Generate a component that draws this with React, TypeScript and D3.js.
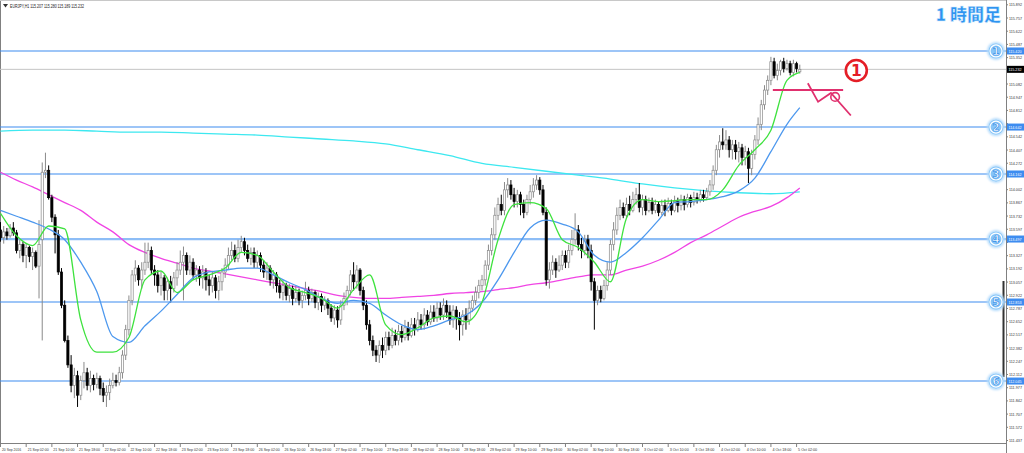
import React from "react";
import * as d3 from "d3";

// EURJPY H1 candles, 20 Sep 2016 18:00 .. 5 Oct 2016 03:00
const opens = [
  113.59, 113.51, 113.57, 113.53, 113.61, 113.56, 113.38, 113.44, 113.33, 113.41,
  113.32, 113.36, 113.22, 113.49, 114.18, 114.2, 113.92, 113.72, 113.54, 113.16,
  112.82, 112.46, 112.21, 112.0, 112.1, 111.9, 112.05, 112.13, 112.0, 112.07,
  112.01, 112.07, 111.97, 111.9, 111.93, 112.0, 112.05, 112.03, 112.13, 112.31,
  112.57, 112.87, 113.13, 113.2, 113.08, 113.18, 113.26, 113.38, 113.18, 113.13,
  113.02, 113.1, 112.97, 113.06, 112.99, 113.1, 113.18, 113.26, 113.33, 113.18,
  113.26, 113.13, 113.18, 113.1, 113.16, 113.08, 113.02, 113.1, 112.97, 113.06,
  113.16, 113.23, 113.33, 113.38, 113.3, 113.41, 113.47, 113.38, 113.3, 113.36,
  113.26, 113.33, 113.23, 113.16, 113.2, 113.08, 113.13, 113.02, 112.95, 113.02,
  112.92, 112.99, 112.89, 112.95, 112.87, 112.92, 112.97, 112.89, 112.95, 112.85,
  112.91, 112.82, 112.87, 112.79, 112.69, 112.77, 112.67, 112.82, 112.89, 112.97,
  113.13, 113.06, 113.18, 112.97, 112.82, 112.62, 112.46, 112.36, 112.31, 112.41,
  112.36, 112.49, 112.41, 112.51, 112.46, 112.55, 112.49, 112.59, 112.51, 112.62,
  112.57, 112.67, 112.62, 112.72, 112.65, 112.75, 112.69, 112.79, 112.72, 112.82,
  112.75, 112.67, 112.77, 112.69, 112.62, 112.72, 112.67, 112.79, 112.87, 112.95,
  113.02, 113.08, 113.23, 113.38, 113.54, 113.74, 113.85, 113.79, 114.0, 114.05,
  113.95, 113.88, 113.95, 113.85, 113.77, 113.9, 113.98, 114.05, 114.1, 114.0,
  113.77, 113.08, 113.18, 113.26, 113.18, 113.23, 113.33, 113.26, 113.38, 113.49,
  113.59, 113.44, 113.38, 113.49, 113.38, 113.06, 112.87, 112.97, 112.89, 113.02,
  113.18, 113.44, 113.59, 113.74, 113.82, 113.74, 113.85, 113.79, 113.9, 113.95,
  113.82, 113.9, 113.79, 113.87, 113.79, 113.85, 113.77, 113.84, 113.79, 113.86,
  113.79, 113.88, 113.84, 113.9, 113.85, 113.92, 113.87, 113.92, 113.9, 113.95,
  113.92, 113.98, 114.05, 114.2, 114.41, 114.49, 114.46, 114.51, 114.41, 114.46,
  114.39, 114.43, 114.33, 114.39, 114.22, 114.36, 114.51, 114.67, 114.87, 115.02,
  115.12, 115.31, 115.17, 115.22, 115.31, 115.24, 115.29, 115.2, 115.29, 115.207,
];
const highs = [
  113.67, 113.63, 113.61, 113.65, 113.67, 113.59, 113.49, 113.47, 113.45, 113.43,
  113.41, 113.38, 113.69, 114.28, 114.38, 114.25, 113.95, 113.75, 113.59, 113.2,
  112.87, 112.51, 112.31, 112.18, 112.15, 112.1, 112.24, 112.18, 112.15, 112.11,
  112.13, 112.1, 112.03, 112.0, 112.07, 112.13, 112.11, 112.19, 112.36, 112.62,
  112.92, 113.18, 113.28, 113.23, 113.26, 113.46, 113.46, 113.42, 113.23, 113.18,
  113.16, 113.13, 113.1, 113.12, 113.16, 113.26, 113.38, 113.42, 113.36, 113.33,
  113.3, 113.23, 113.22, 113.23, 113.2, 113.13, 113.16, 113.13, 113.12, 113.2,
  113.3, 113.41, 113.47, 113.44, 113.49, 113.53, 113.51, 113.44, 113.41, 113.41,
  113.38, 113.36, 113.28, 113.26, 113.23, 113.18, 113.16, 113.08, 113.08, 113.05,
  113.04, 113.02, 113.02, 112.99, 112.97, 113.06, 113.01, 112.99, 112.97, 112.95,
  112.94, 112.91, 112.89, 112.83, 112.82, 112.81, 112.87, 112.95, 113.02, 113.18,
  113.26, 113.23, 113.2, 113.01, 112.87, 112.67, 112.51, 112.41, 112.46, 112.49,
  112.55, 112.55, 112.59, 112.57, 112.62, 112.61, 112.67, 112.65, 112.69, 112.69,
  112.75, 112.73, 112.79, 112.77, 112.82, 112.82, 112.85, 112.85, 112.89, 112.87,
  112.82, 112.82, 112.81, 112.75, 112.77, 112.79, 112.87, 112.92, 113.01, 113.08,
  113.13, 113.28, 113.44, 113.61, 113.82, 113.92, 113.95, 114.08, 114.12, 114.1,
  114.02, 114.0, 113.98, 113.9, 113.95, 114.05, 114.12, 114.15, 114.13, 114.05,
  113.82, 113.26, 113.33, 113.3, 113.33, 113.38, 113.38, 113.44, 113.59, 113.76,
  113.64, 113.51, 113.54, 113.54, 113.44, 113.1, 113.02, 113.02, 113.08, 113.26,
  113.49, 113.67, 113.82, 113.9, 113.87, 113.92, 113.94, 113.98, 114.02, 114.07,
  113.95, 113.94, 113.92, 113.92, 113.9, 113.88, 113.9, 113.9, 113.92, 113.9,
  113.94, 113.92, 113.95, 113.94, 113.96, 113.95, 113.98, 113.97, 114.0, 114.0,
  114.02, 114.1, 114.25, 114.46, 114.56, 114.63, 114.61, 114.55, 114.51, 114.51,
  114.49, 114.47, 114.45, 114.43, 114.41, 114.56, 114.74, 114.92, 115.07, 115.17,
  115.36, 115.35, 115.29, 115.33, 115.35, 115.33, 115.32, 115.33, 115.31, 115.28,
];
const lows = [
  113.47, 113.45, 113.49, 113.51, 113.53, 113.35, 113.3, 113.26, 113.2, 113.26,
  113.18, 113.2, 112.89, 112.46, 114.12, 113.9, 113.67, 113.35, 113.13, 112.79,
  112.44, 112.18, 111.93, 111.87, 111.78, 111.85, 111.97, 111.95, 111.93, 111.95,
  111.97, 111.9, 111.83, 111.78, 111.85, 111.97, 111.99, 112.0, 112.07, 112.26,
  112.51, 112.82, 113.06, 113.02, 112.99, 113.13, 113.2, 113.13, 113.02, 112.95,
  112.92, 112.87, 112.87, 112.85, 112.95, 113.02, 113.13, 112.87, 113.13, 113.13,
  113.08, 113.06, 113.02, 112.99, 112.97, 112.92, 112.95, 112.89, 112.87, 112.97,
  113.1, 113.18, 113.28, 113.26, 113.26, 113.36, 113.33, 113.26, 113.23, 113.2,
  113.2, 113.16, 113.1, 113.08, 113.02, 112.99, 112.95, 112.89, 112.87, 112.87,
  112.85, 112.82, 112.85, 112.82, 112.79, 112.87, 112.82, 112.85, 112.79, 112.77,
  112.75, 112.77, 112.72, 112.65, 112.62, 112.59, 112.62, 112.77, 112.82, 112.92,
  112.97, 112.99, 112.92, 112.77, 112.57, 112.41, 112.3, 112.24, 112.23, 112.28,
  112.31, 112.36, 112.38, 112.41, 112.41, 112.44, 112.46, 112.46, 112.49, 112.51,
  112.55, 112.57, 112.57, 112.61, 112.62, 112.65, 112.65, 112.67, 112.67, 112.69,
  112.62, 112.59, 112.57, 112.46, 112.51, 112.57, 112.62, 112.75, 112.82, 112.89,
  112.97, 113.02, 113.18, 113.33, 113.49, 113.69, 113.74, 113.74, 113.92, 113.9,
  113.82, 113.82, 113.74, 113.71, 113.74, 113.85, 113.92, 114.0, 113.95, 113.74,
  113.02, 112.99, 113.13, 113.1, 113.16, 113.18, 113.2, 113.2, 113.33, 113.44,
  113.38, 113.3, 113.33, 113.3, 112.97, 112.57, 112.82, 112.85, 112.87, 112.97,
  113.13, 113.38, 113.54, 113.69, 113.71, 113.71, 113.74, 113.77, 113.85, 113.77,
  113.74, 113.74, 113.77, 113.75, 113.76, 113.73, 113.74, 113.73, 113.77, 113.74,
  113.77, 113.77, 113.79, 113.79, 113.82, 113.82, 113.84, 113.86, 113.87, 113.88,
  113.9, 113.94, 114.0, 114.15, 114.33, 114.41, 114.41, 114.33, 114.31, 114.31,
  114.28, 114.25, 114.25, 114.07, 114.15, 114.31, 114.46, 114.61, 114.82, 114.97,
  115.07, 115.14, 115.12, 115.17, 115.2, 115.22, 115.17, 115.16, 115.2, 115.189,
];
const closes = [
  113.51, 113.57, 113.53, 113.61, 113.56, 113.38, 113.44, 113.33, 113.41, 113.32,
  113.36, 113.22, 113.44, 114.18, 114.2, 113.92, 113.72, 113.54, 113.16, 112.82,
  112.46, 112.21, 112.0, 112.1, 111.9, 112.05, 112.13, 112.0, 112.07, 112.01,
  112.07, 111.97, 111.9, 111.93, 112.0, 112.05, 112.03, 112.13, 112.31, 112.57,
  112.87, 113.13, 113.2, 113.08, 113.18, 113.26, 113.38, 113.18, 113.13, 113.02,
  113.1, 112.97, 113.06, 112.99, 113.1, 113.18, 113.26, 113.33, 113.18, 113.26,
  113.13, 113.18, 113.1, 113.16, 113.08, 113.02, 113.1, 112.97, 113.06, 113.16,
  113.23, 113.33, 113.38, 113.3, 113.41, 113.47, 113.38, 113.3, 113.36, 113.26,
  113.33, 113.23, 113.16, 113.2, 113.08, 113.13, 113.02, 112.95, 113.02, 112.92,
  112.99, 112.89, 112.95, 112.87, 112.92, 112.97, 112.89, 112.95, 112.85, 112.91,
  112.82, 112.87, 112.79, 112.69, 112.77, 112.67, 112.82, 112.89, 112.97, 113.13,
  113.06, 113.18, 112.97, 112.82, 112.62, 112.46, 112.36, 112.31, 112.41, 112.36,
  112.49, 112.41, 112.51, 112.46, 112.55, 112.49, 112.59, 112.51, 112.62, 112.57,
  112.67, 112.62, 112.72, 112.65, 112.75, 112.69, 112.79, 112.72, 112.82, 112.75,
  112.67, 112.77, 112.69, 112.62, 112.72, 112.67, 112.79, 112.87, 112.95, 113.02,
  113.08, 113.23, 113.38, 113.54, 113.74, 113.85, 113.79, 114.0, 114.05, 113.95,
  113.88, 113.95, 113.85, 113.77, 113.9, 113.98, 114.05, 114.1, 114.0, 113.77,
  113.08, 113.18, 113.26, 113.18, 113.23, 113.33, 113.26, 113.38, 113.49, 113.59,
  113.44, 113.38, 113.49, 113.38, 113.06, 112.87, 112.97, 112.89, 113.02, 113.18,
  113.44, 113.59, 113.74, 113.82, 113.74, 113.85, 113.79, 113.9, 113.95, 113.82,
  113.9, 113.79, 113.87, 113.79, 113.85, 113.77, 113.84, 113.79, 113.86, 113.79,
  113.88, 113.84, 113.9, 113.85, 113.92, 113.87, 113.92, 113.9, 113.95, 113.92,
  113.98, 114.05, 114.2, 114.41, 114.49, 114.46, 114.51, 114.41, 114.46, 114.39,
  114.43, 114.33, 114.39, 114.22, 114.36, 114.51, 114.67, 114.87, 115.02, 115.12,
  115.31, 115.17, 115.22, 115.31, 115.24, 115.29, 115.2, 115.29, 115.24, 115.232,
];

// moving averages at these bar indices
const maBars = [
  0, 5, 10, 15, 20, 25, 30, 35, 40, 45, 50, 55, 60, 65, 70, 75, 80, 85, 90, 95,
  100, 105, 110, 115, 120, 125, 130, 135, 140, 145, 150, 155, 160, 165, 170, 175,
  180, 185, 190, 195, 200, 205, 210, 215, 220, 225, 230, 235, 240, 245, 249,
];
const greenMa = [
  113.76, 113.53, 113.43, 113.63, 113.6, 112.67, 112.34, 112.34, 112.49, 113.08,
  113.17, 112.95, 113.08, 113.13, 113.2, 113.36, 113.33, 113.16, 113.0, 112.95,
  112.89, 112.79, 112.98, 113.13, 112.62, 112.52, 112.59, 112.69, 112.71, 112.65,
  112.85, 113.49, 113.85, 113.87, 113.81, 113.49, 113.41, 113.26, 113.06, 113.71,
  113.9, 113.88, 113.89, 113.9, 113.9, 114.0, 114.25, 114.41, 114.61, 115.12, 115.2,
];
const blueMa = [
  113.79, 113.73, 113.67, 113.6, 113.49, 113.26, 112.96, 112.5, 112.44, 112.61,
  112.76, 112.93, 113.1, 113.16, 113.18, 113.2, 113.2, 113.13, 113.05, 112.98,
  112.89, 112.84, 112.87, 112.84, 112.72, 112.62, 112.57, 112.61, 112.67, 112.72,
  112.85, 113.08, 113.36, 113.61, 113.69, 113.65, 113.57, 113.33, 113.26, 113.36,
  113.51, 113.69, 113.87, 113.88, 113.9, 113.93, 113.99, 114.12, 114.39, 114.67, 114.84,
];
const magentaMa = [
  114.18, 114.1, 114.03, 113.95, 113.87, 113.79, 113.67, 113.57, 113.44, 113.36,
  113.3, 113.25, 113.2, 113.17, 113.14, 113.11, 113.08, 113.05, 113.02, 112.99,
  112.96, 112.92, 112.9, 112.89, 112.89, 112.9, 112.91, 112.92, 112.94, 112.95,
  112.96, 112.98, 113.0, 113.03, 113.05, 113.08, 113.11, 113.13, 113.13, 113.18,
  113.22, 113.28, 113.36, 113.46, 113.54, 113.63, 113.72, 113.78, 113.83, 113.92, 114.02,
];
const cyanBars = [
  0, 10, 20, 30, 40, 50, 60, 70, 80, 90, 100, 110, 120, 130, 140, 150, 160, 170,
  180, 190, 200, 210, 220, 230, 240, 249,
];
const cyanMa = [
  114.6, 114.61, 114.61, 114.6, 114.59, 114.59, 114.58, 114.57, 114.56, 114.54,
  114.52, 114.5, 114.47, 114.41, 114.35, 114.27, 114.23, 114.19, 114.15, 114.11,
  114.06, 114.02, 113.99, 113.97, 113.96, 113.98,
];

const levels = [115.42, 114.642, 114.162, 113.497, 112.853, 112.045];
const levelNames = ["1", "2", "3", "4", "5", "6"];

const priceTicks = [
  115.892, 115.757, 115.622, 115.487, 115.352, 115.217, 115.082, 114.947, 114.812,
  114.677, 114.542, 114.407, 114.272, 114.137, 114.002, 113.867, 113.732, 113.597,
  113.462, 113.327, 113.192, 113.057, 112.922, 112.787, 112.652, 112.517, 112.382,
  112.247, 112.112, 111.977, 111.842, 111.707, 111.572, 111.437,
];

const timeLabels = [
  "20 Sep 2016",
  "21 Sep 02:00", "21 Sep 10:00", "21 Sep 18:00",
  "22 Sep 02:00", "22 Sep 10:00", "22 Sep 18:00",
  "23 Sep 02:00", "23 Sep 10:00", "23 Sep 18:00",
  "26 Sep 02:00", "26 Sep 10:00", "26 Sep 18:00",
  "27 Sep 02:00", "27 Sep 10:00", "27 Sep 18:00",
  "28 Sep 02:00", "28 Sep 10:00", "28 Sep 18:00",
  "29 Sep 02:00", "29 Sep 10:00", "29 Sep 18:00",
  "30 Sep 02:00", "30 Sep 10:00", "30 Sep 18:00",
  "3 Oct 02:00", "3 Oct 10:00", "3 Oct 18:00",
  "4 Oct 02:00", "4 Oct 10:00", "4 Oct 18:00",
  "5 Oct 02:00",
];

// hand-drawn annotation (bar index, price)
const supportLine = { from: 240.6, to: 262.5, price: 115.02 };
const zigzag: [number, number][] = [
  [251.5, 115.09],
  [254.7, 114.9],
  [258.7, 114.99],
  [264.9, 114.76],
];
const zigCircle: [number, number] = [260.0, 114.95];
const markOne: [number, number] = [266.6, 115.22];

const FONT = "'Liberation Sans', Arial, sans-serif";

export default function App() {
  const plotR = 1006;
  const plotB = 443;
  const x = d3.scaleLinear().domain([0, 249]).range([0.5, 799.8]);
  const y = d3.scaleLinear().domain([111.437, 115.892]).range([440.5, 4.8]);
  const fmt = d3.format(".3f");

  const maPath = (bars: number[], vals: number[]) =>
    d3
      .line<number>()
      .x((_, i) => x(bars[i]))
      .y((v) => y(v))
      .curve(d3.curveMonotoneX)(vals) || "";

  const zig = d3
    .line<[number, number]>()
    .x((d) => x(d[0]))
    .y((d) => y(d[1]))(zigzag) || "";

  const lastClose = closes[closes.length - 1];
  // tick labels hidden by the coloured price boxes
  const boxed = [...levels, lastClose];
  const visibleTicks = priceTicks.filter((p) => boxed.every((b) => Math.abs(y(p) - y(b)) > 6));

  return (
    <svg
      width={1024}
      height={453}
      style={{ position: "absolute", left: 0, top: 0, background: "#fff" }}
      fontFamily={FONT}
    >
      <defs>
        <clipPath id="plot">
          <rect x={0} y={0} width={plotR} height={plotB} />
        </clipPath>
        <filter id="glow" x="-50%" y="-50%" width="200%" height="200%">
          <feGaussianBlur stdDeviation="1.3" />
        </filter>
      </defs>
      <rect width={1024} height={453} fill="#fff" />

      {/* frame */}
      <line x1={0.5} y1={0} x2={0.5} y2={plotB} stroke="#808080" />
      <line x1={0} y1={0.5} x2={plotR} y2={0.5} stroke="#c8c8c8" />
      <line x1={plotR + 0.5} y1={0} x2={plotR + 0.5} y2={plotB + 10} stroke="#808080" />
      <line x1={0} y1={plotB + 0.5} x2={plotR} y2={plotB + 0.5} stroke="#808080" />
      <line x1={1003.5} y1={281} x2={1003.5} y2={377} stroke="#333" strokeWidth={2} />

      <g clipPath="url(#plot)">
        {/* current price line */}
        <line x1={0} x2={plotR} y1={y(lastClose)} y2={y(lastClose)} stroke="#c4c4c4" />

        {/* horizontal levels */}
        {levels.map((lv, i) => (
          <line
            key={"lv" + i}
            x1={0}
            x2={plotR}
            y1={y(lv)}
            y2={y(lv)}
            stroke={i === 3 ? "#8dbdf6" : "#3d8cf0"}
            strokeWidth={i === 3 ? 2.2 : 1.1}
          />
        ))}

        {/* moving averages */}
        <path d={maPath(cyanBars, cyanMa)} fill="none" stroke="#3de8f0" strokeWidth={1.3} />
        <path d={maPath(maBars, magentaMa)} fill="none" stroke="#f044e4" strokeWidth={1.3} />

        {/* candles */}
        {closes.map((c, i) => {
          const o = opens[i];
          const bull = c >= o;
          const cx = x(i);
          const top = y(Math.max(o, c));
          const bot = y(Math.min(o, c));
          const col = bull ? "#8a8a8a" : "#000";
          return (
            <g key={"c" + i}>
              <line x1={cx} x2={cx} y1={y(highs[i])} y2={y(lows[i])} stroke={col} strokeWidth={1} />
              <rect
                x={cx - 1.1}
                y={top}
                width={2.2}
                height={Math.max(bot - top, 0.8)}
                fill={bull ? "#fff" : "#000"}
                stroke={col}
                strokeWidth={0.7}
              />
            </g>
          );
        })}

        <path d={maPath(maBars, blueMa)} fill="none" stroke="#4d98ee" strokeWidth={1.3} />
        <path d={maPath(maBars, greenMa)} fill="none" stroke="#3ee23e" strokeWidth={1.3} />

        {/* annotation */}
        <line
          x1={x(supportLine.from)}
          x2={x(supportLine.to)}
          y1={y(supportLine.price)}
          y2={y(supportLine.price)}
          stroke="#e0306e"
          strokeWidth={2}
        />
        <path d={zig} fill="none" stroke="#e0306e" strokeWidth={1.8} />
        <circle cx={x(zigCircle[0])} cy={y(zigCircle[1])} r={4.3} fill="none" stroke="#e0306e" strokeWidth={1.6} />
        <circle cx={x(markOne[0])} cy={y(markOne[1])} r={10.5} fill="#fff" stroke="#e41e26" strokeWidth={2.6} />
        <text
          x={x(markOne[0])}
          y={y(markOne[1]) + 5.5}
          textAnchor="middle"
          fontSize={15.5}
          fontWeight="bold"
          fill="#e41e26"
          fontFamily="'DejaVu Sans', sans-serif"
        >
          1
        </text>

        {/* circled level numbers */}
        {levels.map((lv, i) => (
          <g key={"ln" + i} transform={`translate(996,${y(lv)})`}>
            <circle r={9} fill="#b5dcfc" filter="url(#glow)" />
            <circle r={7.4} fill="#86c5f8" />
            <circle r={6} fill="none" stroke="#fff" strokeWidth={1.2} />
            <text
              y={3.6}
              textAnchor="middle"
              fontSize={10.5}
              fill="#fff"
              stroke="#2f8ae8"
              strokeWidth={0.6}
              fontWeight="bold"
              fontFamily="'DejaVu Sans', sans-serif"
            >
              {levelNames[i]}
            </text>
          </g>
        ))}
      </g>

      {/* header */}
      <path d="M3,4 L8,4 L5.5,7.5 Z" fill="#333" />
      <text x={10} y={8} fontSize={4.6} fill="#222" textLength={74} lengthAdjust="spacingAndGlyphs">
        EURJPY,H1 115.207 115.280 115.189 115.232
      </text>

      {/* timeframe title */}
      <text
        x={1001}
        y={21}
        textAnchor="end"
        fontSize={17}
        fontWeight="900"
        fill="#2f93f0"
        stroke="#d8ecfd"
        strokeWidth={0.5}
        fontFamily="'Noto Sans CJK JP', sans-serif"
      >
        1 時間足
      </text>

      {/* price axis */}
      {priceTicks.map((p) => (
        <line key={"tk" + p} x1={plotR} x2={plotR + 2} y1={y(p)} y2={y(p)} stroke="#808080" />
      ))}
      {visibleTicks.map((p) => (
        <text
          key={"pt" + p}
          x={1009}
          y={y(p) + 1.6}
          fontSize={3.8}
          fill="#333"
          textLength={13}
          lengthAdjust="spacingAndGlyphs"
        >
          {fmt(p)}
        </text>
      ))}
      {levels.map((lv, i) => (
        <g key={"lb" + i}>
          <rect x={plotR + 1} y={y(lv) - 3.5} width={17} height={7} fill="#3d8cf0" />
          <text
            x={1008.5}
            y={y(lv) + 1.6}
            fontSize={3.8}
            fill="#fff"
            textLength={13}
            lengthAdjust="spacingAndGlyphs"
          >
            {fmt(lv)}
          </text>
        </g>
      ))}
      <rect x={plotR + 1} y={y(lastClose) - 3.5} width={17} height={7} fill="#000" />
      <text
        x={1008.5}
        y={y(lastClose) + 1.6}
        fontSize={3.8}
        fill="#fff"
        textLength={13}
        lengthAdjust="spacingAndGlyphs"
      >
        {fmt(lastClose)}
      </text>

      {/* time axis */}
      {timeLabels.map((t, i) => {
        const bar = i === 0 ? 0 : i * 8;
        const tx = x(bar);
        return (
          <g key={"t" + i}>
            <line x1={tx} x2={tx} y1={plotB} y2={plotB + 4} stroke="#808080" />
            <text
              x={tx + 1.5}
              y={450.5}
              fontSize={3.9}
              fill="#333"
              textLength={t.length > 11 ? 21 : 19}
              lengthAdjust="spacingAndGlyphs"
            >
              {t}
            </text>
          </g>
        );
      })}
    </svg>
  );
}
